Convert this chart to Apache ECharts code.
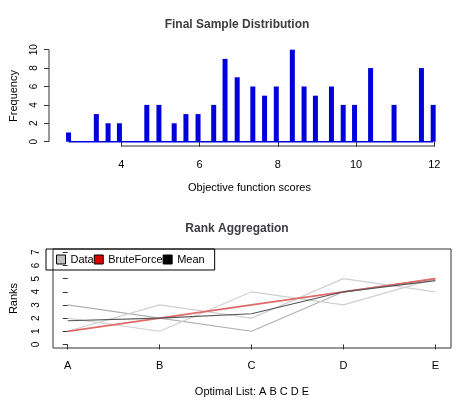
<!DOCTYPE html>
<html>
<head>
<meta charset="utf-8">
<script src="https://cdn.jsdelivr.net/npm/echarts@6/dist/echarts.min.js"></script>
<style>html,body{margin:0;padding:0;background:#fff}#c{width:474px;height:405px}</style>
</head>
<body>
<div id="c"></div>
<script>
// Final sample distribution
const scores = [2.65, 3.36, 3.66, 3.95, 4.65, 4.96, 5.35, 5.65, 5.96, 6.36, 6.65, 6.96, 7.36,
  7.66, 7.96, 8.37, 8.67, 8.96, 9.37, 9.67, 9.96, 10.37, 10.97, 11.67, 11.97];
const freq = [1, 3, 2, 2, 4, 4, 2, 3, 3, 4, 9, 7, 6, 5, 6, 10, 6, 5, 6, 4, 4, 8, 4, 8, 4];
const scoreTicks = [4, 6, 8, 10, 12];
const freqTicks = [0, 2, 4, 6, 8, 10];

// Rank aggregation
const items = ['A', 'B', 'C', 'D', 'E'];
const dataRanks = [
  [3, 2, 1, 4, 5],
  [1, 3, 2, 5, 4],
  [2, 1, 4, 3, 5]
];
const bruteForce = [1, 2, 3, 4, 5];
const meanRanks = [1.8, 2, 2.33, 4, 4.85];
const rankTicks = [0, 1, 2, 3, 4, 5, 6, 7];

const font = 'Liberation Sans, Arial, sans-serif';
const lbl = { fontFamily: font, fontSize: 11, color: '#000' };

const chart = echarts.init(document.getElementById('c'));

const series = [
  {
    type: 'bar', xAxisIndex: 0, yAxisIndex: 0, barWidth: 5,
    itemStyle: { color: '#0000dd' },
    data: scores.map((s, i) => [s, freq[i]])
  },
  {
    type: 'line', xAxisIndex: 0, yAxisIndex: 0, symbol: 'none',
    lineStyle: { color: '#0000dd', width: 1.5 },
    data: [[scores[0], 0], [scores[scores.length - 1], 0]]
  }
];
dataRanks.forEach((r, k) => {
  series.push({
    name: 'Data', type: 'line', xAxisIndex: 1, yAxisIndex: 1, symbol: 'none',
    lineStyle: { color: k === 0 ? '#b0b0b0' : '#d0d0d0', width: 1.2 },
    itemStyle: { color: '#c0c0c0' },
    data: r.map((v, i) => [i, v])
  });
});
series.push({
  name: 'BruteForce', type: 'line', xAxisIndex: 1, yAxisIndex: 1, symbol: 'none',
  lineStyle: { color: '#e06a6a', width: 1.8 }, itemStyle: { color: '#dd0000' },
  data: bruteForce.map((v, i) => [i, v])
});
series.push({
  name: 'Mean', type: 'line', xAxisIndex: 1, yAxisIndex: 1, symbol: 'none',
  lineStyle: { color: '#555', width: 1.2 }, itemStyle: { color: '#000' },
  data: meanRanks.map((v, i) => [i, v])
});

chart.setOption({
  animation: false,
  title: [
    { text: 'Final Sample Distribution', left: 'center', top: 14,
      textStyle: { fontFamily: font, fontSize: 12, fontWeight: 'bold' } },
    { text: 'Rank Aggregation', left: 'center', top: 218,
      textStyle: { fontFamily: font, fontSize: 12, fontWeight: 'bold' } }
  ],
  legend: {
    left: 46, top: 249, width: 203, height: 13, padding: [5, 10, 5, 10],
    borderColor: '#000', borderWidth: 1, itemWidth: 9, itemHeight: 9, itemGap: 0,
    icon: 'rect', data: [
      { name: 'Data', itemStyle: { color: '#c0c0c0', borderColor: '#000', borderWidth: 1 } },
      { name: 'BruteForce', itemStyle: { color: '#dd0000', borderColor: '#000', borderWidth: 1 } },
      { name: 'Mean', itemStyle: { color: '#000', borderColor: '#000', borderWidth: 1 } }
    ],
    textStyle: Object.assign({ width: 57 }, lbl)
  },
  grid: [
    { left: 43, top: 46, width: 407, height: 100 },
    { left: 46, top: 249, width: 405, height: 99, show: true, borderColor: '#333', borderWidth: 1 }
  ],
  xAxis: [
    {
      type: 'value', gridIndex: 0, min: 2.15, max: 12.4,
      name: 'Objective function scores', nameLocation: 'middle', nameGap: 36,
      nameTextStyle: lbl, splitLine: { show: false },
      axisLine: { show: false },
      axisTick: { show: true, length: 5, customValues: scoreTicks, lineStyle: { color: '#333' } },
      axisLabel: Object.assign({ customValues: scoreTicks, margin: 13 }, lbl)
    },
    {
      type: 'value', gridIndex: 1, min: -0.16, max: 4.17,
      name: 'Optimal List: ' + items.join(' '), nameLocation: 'middle', nameGap: 38,
      nameTextStyle: lbl, splitLine: { show: false },
      axisLine: { show: false },
      axisTick: { show: true, inside: false, length: 5, customValues: [0, 1, 2, 3, 4], lineStyle: { color: '#333' } },
      axisLabel: Object.assign({ customValues: [0, 1, 2, 3, 4], margin: 12,
        formatter: v => items[Math.round(v)] }, lbl)
    }
  ],
  yAxis: [
    {
      type: 'value', gridIndex: 0, min: -0.47, max: 10.4,
      name: 'Frequency', nameLocation: 'middle', nameGap: 30, nameTextStyle: lbl,
      splitLine: { show: false }, axisLine: { show: false },
      axisTick: { show: true, length: 5, customValues: freqTicks, lineStyle: { color: '#333' } },
      axisLabel: Object.assign({ customValues: freqTicks, rotate: 90, margin: 10 }, lbl, { fontSize: 10 })
    },
    {
      type: 'value', gridIndex: 1, min: -0.27, max: 7.25,
      name: 'Ranks', nameLocation: 'middle', nameGap: 34, nameTextStyle: lbl,
      splitLine: { show: false }, axisLine: { show: false },
      axisTick: { show: true, inside: false, length: 5, customValues: rankTicks, lineStyle: { color: '#333' } },
      axisLabel: Object.assign({ customValues: rankTicks, rotate: 90, margin: 12 }, lbl, { fontSize: 10 })
    }
  ],
  series: series
});

// R-style axis lines spanning only the tick range
function seg(p1, p2) {
  return { type: 'line', shape: { x1: p1[0], y1: p1[1], x2: p2[0], y2: p2[1] },
    style: { stroke: '#333', lineWidth: 1 } };
}
const g0 = { xAxisIndex: 0, yAxisIndex: 0 };
const a = chart.convertToPixel(g0, [4, -0.47]);
const b = chart.convertToPixel(g0, [12, -0.47]);
const c = chart.convertToPixel(g0, [2.15, 0]);
const d = chart.convertToPixel(g0, [2.15, 10]);
chart.setOption({ graphic: [seg(a, b), seg(c, d)] });
</script>
</body>
</html>
